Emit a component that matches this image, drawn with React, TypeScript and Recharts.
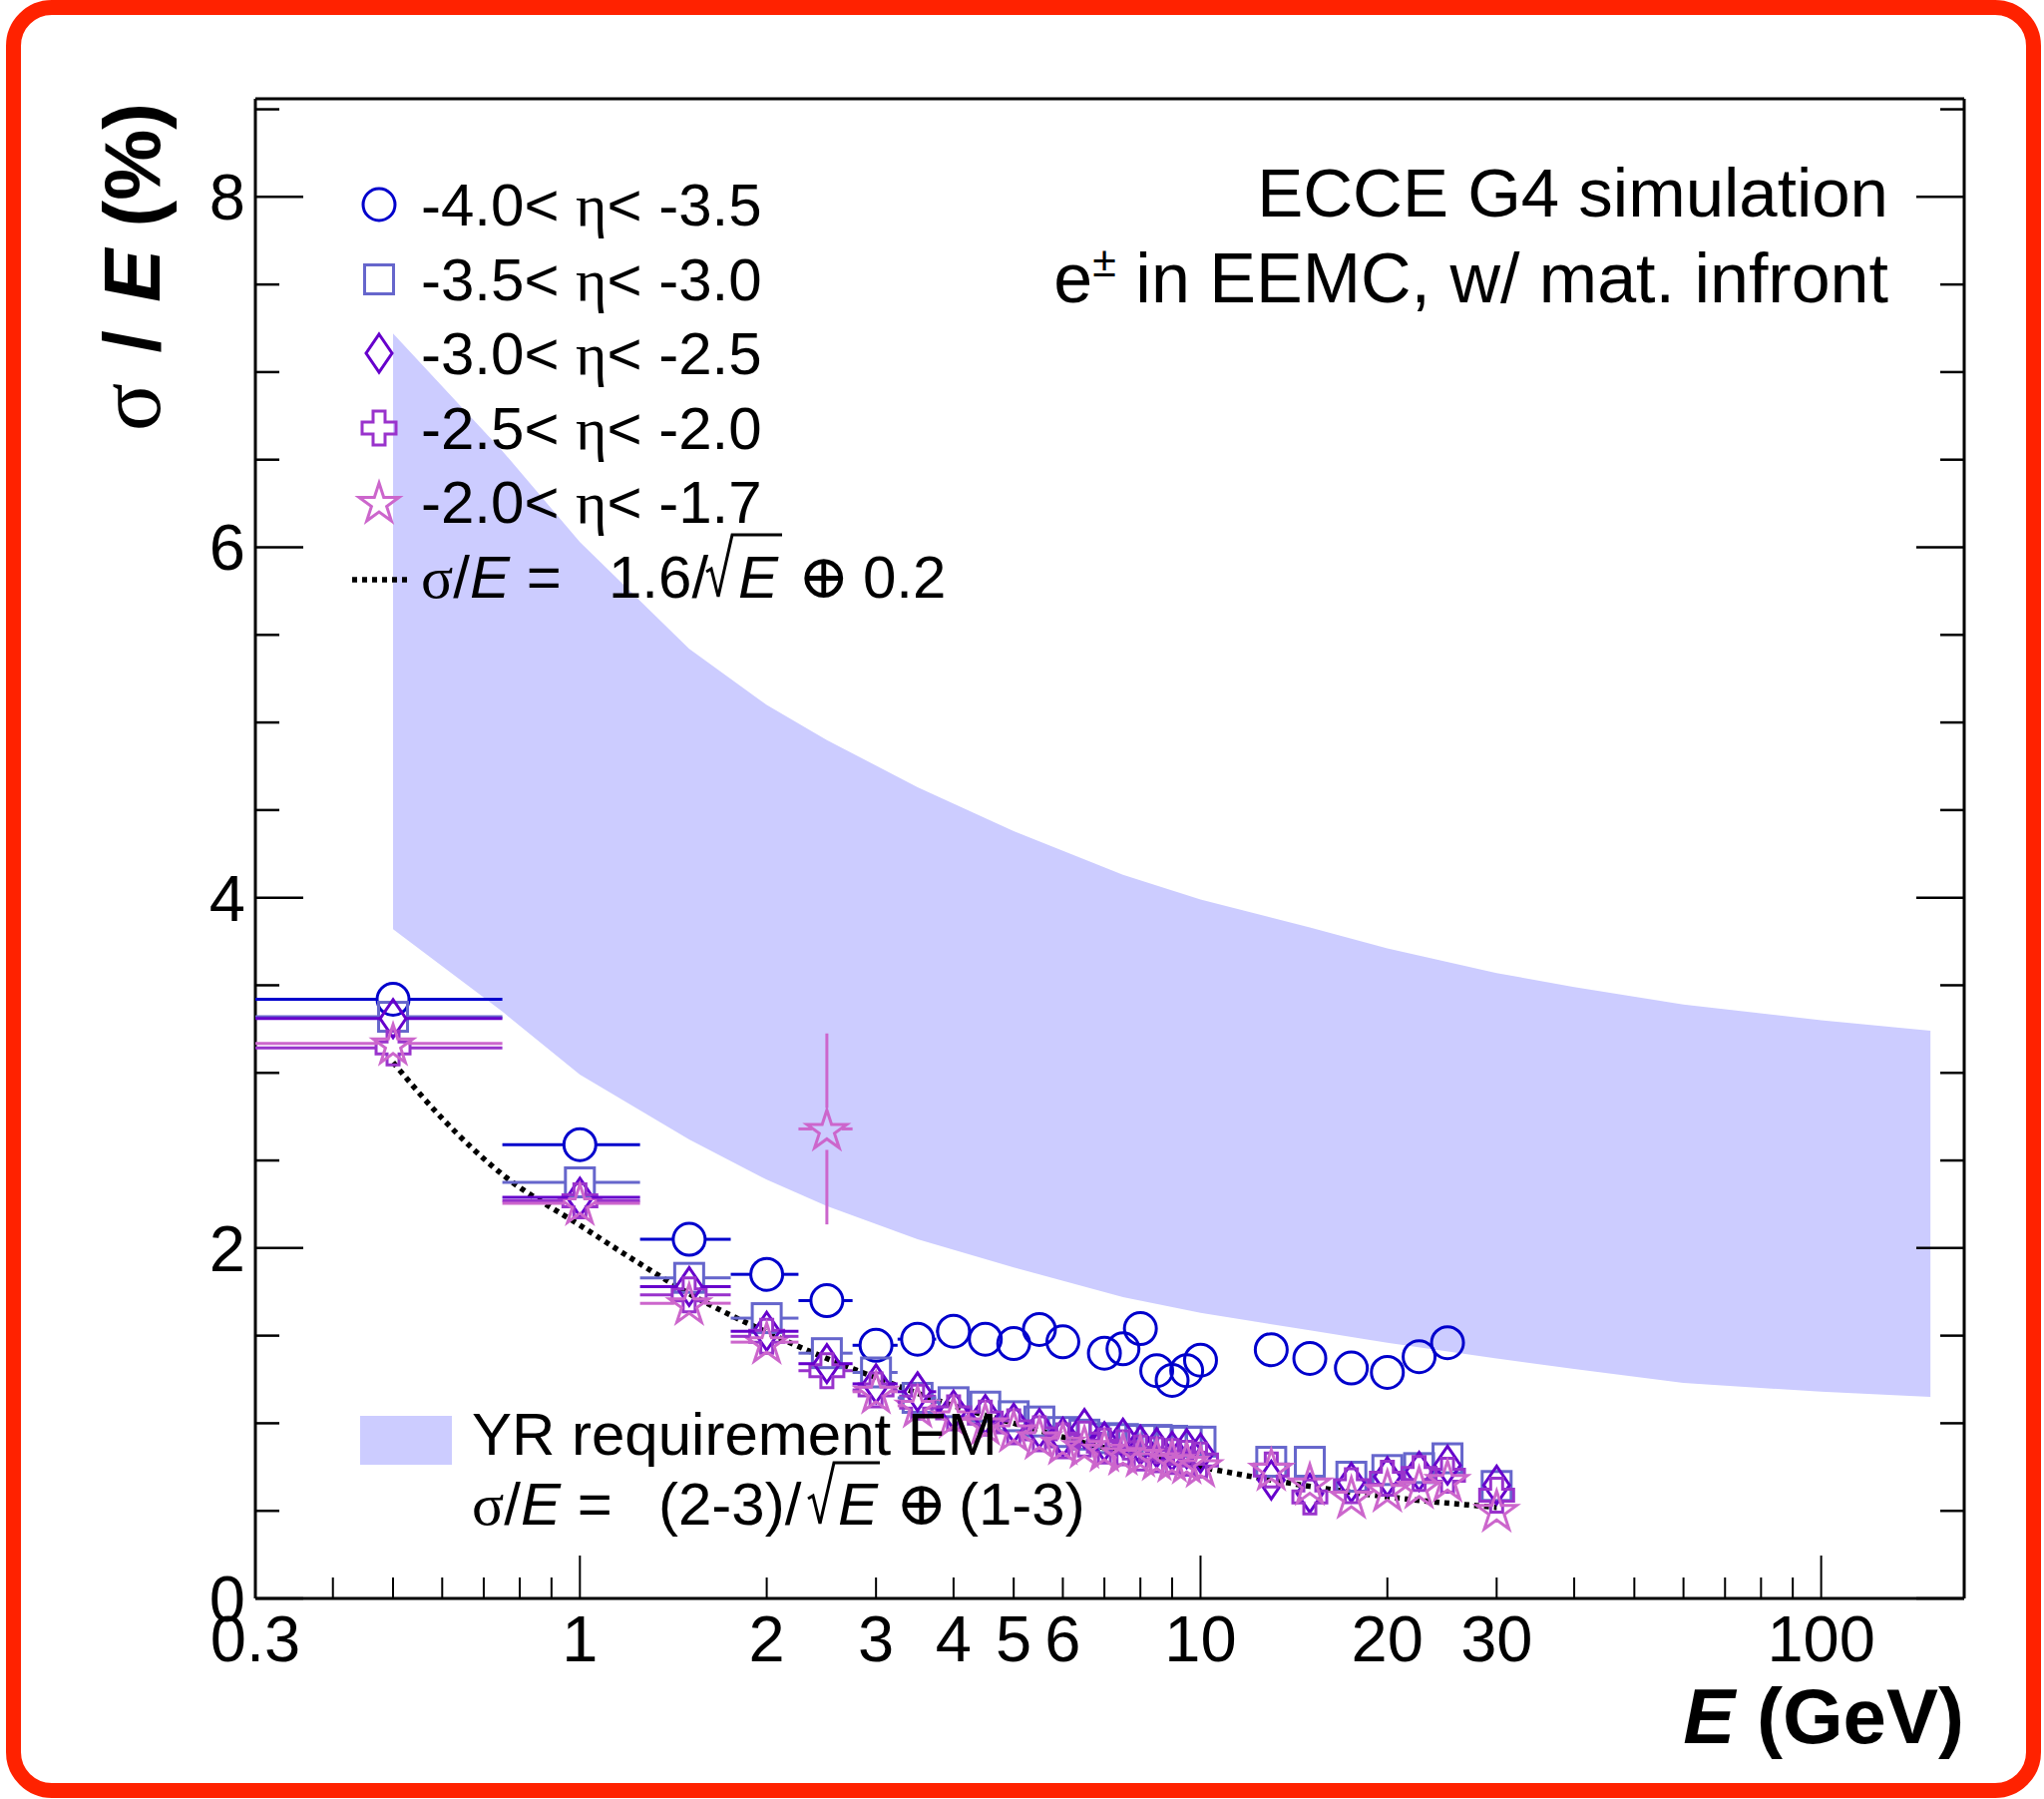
import { useState } from "react";
import { createPortal } from "react-dom";
import * as Recharts from "recharts";
import { Area, ComposedChart, ErrorBar, Line, Scatter, XAxis, YAxis } from "recharts";

const W = 2049;
const H = 1803;
const SANS = "'Liberation Sans', Arial, Helvetica, sans-serif";
const SERIF = "'Liberation Serif', 'DejaVu Serif', serif";

// beam energies (GeV)
const energies = [0.5, 1, 1.5, 2, 2.5, 3, 3.5, 4, 4.5, 5, 5.5, 6, 6.5, 7, 7.5, 8, 8.5, 9, 9.5, 10, 13, 15, 17.5, 20, 22.5, 25, 30];

// sigma/E (%) per eta bin, null where the bin has no point
const res40to35 = [3.42, 2.59, 2.05, 1.85, 1.7, 1.445, 1.48, 1.525, 1.48, 1.455, 1.535, 1.465, null, 1.4, 1.425, 1.54, 1.3, 1.245, 1.3, 1.36, 1.42, 1.37, 1.315, 1.29, 1.38, 1.46, null];
const res35to30 = [3.32, 2.375, 1.83, 1.6, 1.4, 1.29, 1.145, 1.12, 1.095, 1.04, 1.01, 0.95, 0.935, 0.915, 0.91, 0.905, 0.905, 0.9, 0.895, 0.895, 0.78, 0.78, 0.695, 0.733, 0.744, 0.8, 0.642];
const res30to25 = [3.31, 2.29, 1.78, 1.525, 1.34, 1.225, 1.18, 1.075, 1.05, 1.0, 0.97, 0.92, 0.97, 0.895, 0.915, 0.875, 0.86, 0.84, 0.855, 0.83, 0.676, 0.6, 0.662, 0.695, 0.725, 0.761, 0.647];
const res25to20 = [3.143, 2.27, 1.733, 1.496, 1.3, 1.19, 1.12, 1.06, 1.03, 0.98, 0.94, 0.9, 0.91, 0.87, 0.86, 0.83, 0.82, 0.81, 0.8, 0.79, 0.733, 0.58, 0.643, 0.686, 0.714, 0.704, 0.59];
const res20to17 = [3.168, 2.255, 1.685, 1.463, 2.68, 1.18, 1.1, 1.04, 1.0, 0.96, 0.92, 0.89, 0.87, 0.85, 0.83, 0.82, 0.8, 0.79, 0.78, 0.76, 0.74, 0.657, 0.581, 0.619, 0.638, 0.676, 0.505];
const res20to17Err = [0, 0, 0, 0, 0.545, 0, 0, 0, 0, 0, 0, 0, 0, 0, 0, 0, 0, 0, 0, 0, 0, 0, 0, 0, 0, 0, 0];

const binHalfWidth = 0.25;

// YR requirement band edges
const bandE = [0.5, 0.75, 1, 1.5, 2, 2.5, 3.5, 5, 7.5, 10, 15, 20, 30, 40, 60, 100, 150];
const bandLow = [3.82, 3.35, 2.99, 2.62, 2.39, 2.24, 2.05, 1.89, 1.72, 1.63, 1.53, 1.46, 1.37, 1.31, 1.23, 1.18, 1.15];
const bandHigh = [7.22, 6.55, 6.03, 5.42, 5.1, 4.9, 4.63, 4.38, 4.13, 3.99, 3.83, 3.71, 3.57, 3.49, 3.39, 3.3, 3.24];

// fitted resolution curve
const fitE = [0.5, 0.6, 0.75, 1, 1.25, 1.5, 2, 2.5, 3, 4, 5, 7, 10, 15, 20, 30];
const fitRes = [3.06, 2.74, 2.42, 2.13, 1.91, 1.74, 1.52, 1.37, 1.26, 1.1, 1.0, 0.86, 0.75, 0.64, 0.58, 0.52];

const xDomain: [number, number] = [0.3, 170];
const yDomain: [number, number] = [0, 8.56];
const xTicks = [0.3, 0.4, 0.5, 0.6, 0.7, 0.8, 0.9, 1, 2, 3, 4, 5, 6, 7, 8, 9, 10, 20, 30, 40, 50, 60, 70, 80, 90, 100];
const xLabels = [0.3, 1, 2, 3, 4, 5, 6, 10, 20, 30, 100];
const xLong = [1, 10, 100];
const yTicks = [0, 0.5, 1, 1.5, 2, 2.5, 3, 3.5, 4, 4.5, 5, 5.5, 6, 6.5, 7, 7.5, 8, 8.5];
const yLabels = [0, 2, 4, 6, 8];

type Kind = "circle" | "square" | "diamond" | "cross" | "star";

const series: { name: string; kind: Kind; color: string; values: (number | null)[]; yErr?: number[] }[] = [
  { name: "-4.0< η< -3.5", kind: "circle", color: "#0000cc", values: res40to35 },
  { name: "-3.5< η< -3.0", kind: "square", color: "#6666cc", values: res35to30 },
  { name: "-3.0< η< -2.5", kind: "diamond", color: "#6600cc", values: res30to25 },
  { name: "-2.5< η< -2.0", kind: "cross", color: "#9933cc", values: res25to20 },
  { name: "-2.0< η< -1.7", kind: "star", color: "#cc66cc", values: res20to17, yErr: res20to17Err },
];

// half extent of each marker, error bars stop at the marker edge
const markerGap: Record<Kind, [number, number]> = {
  circle: [16, 16],
  square: [14.5, 14.5],
  diamond: [12, 19],
  cross: [17, 17],
  star: [15, 21],
};

const starPoints = (cx: number, cy: number, R: number, r: number) => {
  const pts: string[] = [];
  for (let i = 0; i < 10; i++) {
    const rad = i % 2 === 0 ? R : r;
    const a = -Math.PI / 2 + (i * Math.PI) / 5;
    pts.push(`${cx + rad * Math.cos(a)},${cy + rad * Math.sin(a)}`);
  }
  return pts.join(" ");
};

const Marker = ({ kind, cx, cy, color }: { kind: Kind; cx: number; cy: number; color: string }) => {
  const common = { fill: "none", stroke: color, strokeWidth: 3 };
  switch (kind) {
    case "circle":
      return <circle cx={cx} cy={cy} r={16} {...common} />;
    case "square":
      return <rect x={cx - 14.5} y={cy - 14.5} width={29} height={29} {...common} />;
    case "diamond":
      return <polygon points={`${cx},${cy - 19} ${cx + 13},${cy} ${cx},${cy + 19} ${cx - 13},${cy}`} {...common} />;
    case "cross": {
      const o = 17;
      const a = 6;
      const p = [
        [-a, -o], [a, -o], [a, -a], [o, -a], [o, a], [a, a], [a, o], [-a, o], [-a, a], [-o, a], [-o, -a], [-a, -a],
      ].map(([dx, dy]) => `${cx + dx},${cy + dy}`).join(" ");
      return <polygon points={p} {...common} />;
    }
    default:
      return <polygon points={starPoints(cx, cy + 2, 21, 8)} {...common} />;
  }
};

const BottomTick = (props: any) => {
  const { x, y, payload } = props;
  const v = payload.value;
  const len = v === xDomain[0] ? 0 : xLong.includes(v) ? 43 : 21;
  return (
    <g>
      {len > 0 && <line x1={x} y1={y} x2={x} y2={y - len} stroke="#000" strokeWidth={2} />}
      {xLabels.includes(v) && (
        <text x={x} y={y + 63} textAnchor="middle" fontSize={65} fontFamily={SANS} fill="#000">
          {String(v)}
        </text>
      )}
    </g>
  );
};

const TopTick = (props: any) => {
  const { x, y, payload } = props;
  const v = payload.value;
  const len = v === xDomain[0] ? 0 : xLong.includes(v) ? 43 : 21;
  return len > 0 ? <line x1={x} y1={y} x2={x} y2={y + len} stroke="#000" strokeWidth={2} /> : <g />;
};

const LeftTick = (props: any) => {
  const { x, y, payload } = props;
  const v = payload.value;
  const major = yLabels.includes(v);
  return (
    <g>
      <line x1={x} y1={y} x2={x + (major ? 48 : 24)} y2={y} stroke="#000" strokeWidth={2.5} />
      {major && (
        <text x={x - 10} y={y + 23} textAnchor="end" fontSize={65} fontFamily={SANS} fill="#000">
          {String(v)}
        </text>
      )}
    </g>
  );
};

const RightTick = (props: any) => {
  const { x, y, payload } = props;
  const major = yLabels.includes(payload.value);
  return <line x1={x} y1={y} x2={x - (major ? 48 : 24)} y2={y} stroke="#000" strokeWidth={2.5} />;
};

const bandData = bandE.map((E, i) => ({ E, range: [bandLow[i], bandHigh[i]] }));
const fitData = fitE.map((E, i) => ({ E, v: fitRes[i] }));

const pointsOf = (s: (typeof series)[number]) =>
  energies
    .map((E, i) => ({
      E,
      v: s.values[i] as number,
      ex: [Math.min(binHalfWidth, E - xDomain[0]), binHalfWidth],
      ey: s.yErr ? s.yErr[i] : 0,
    }))
    .filter((p) => p.v !== null);

// axis scale hooks (recharts 3); fall back to plain ErrorBar when missing
const R = Recharts as any;
const hasScaleHooks = typeof R.useXAxisScale === "function" && typeof R.useYAxisScale === "function";
const useXScale: (id: string) => any = hasScaleHooks ? R.useXAxisScale : () => undefined;
const useYScale: (id: string) => any = hasScaleHooks ? R.useYAxisScale : () => undefined;
const asFn = (s: any): ((v: number) => number) | undefined =>
  typeof s === "function" ? s : s && typeof s.map === "function" ? (v: number) => s.map(v) : undefined;

// ROOT-style error bars: drawn only outside the marker, on top of the band
const BinErrorBars = ({ target }: { target: SVGGElement | null }) => {
  const xs = asFn(useXScale("e"));
  const ys = asFn(useYScale("left"));
  if (!xs || !ys || !target) return null;
  const segs: JSX.Element[] = [];
  series.forEach((s) => {
    const [gx, gy] = markerGap[s.kind];
    pointsOf(s).forEach((p) => {
      const cx = xs(p.E);
      const cy = ys(p.v);
      const x0 = xs(p.E - p.ex[0]);
      const x1 = xs(p.E + p.ex[1]);
      const key = `${s.kind}-${p.E}`;
      const line = (k: string, a: number, b: number, c: number, d: number) => (
        <line key={k} x1={a} y1={b} x2={c} y2={d} stroke={s.color} strokeWidth={3} />
      );
      if (cx - gx > x0) segs.push(line(`${key}-l`, x0, cy, cx - gx, cy));
      if (x1 > cx + gx) segs.push(line(`${key}-r`, cx + gx, cy, x1, cy));
      if (p.ey > 0) {
        const yt = ys(p.v + p.ey);
        const yb = ys(p.v - p.ey);
        if (cy - gy > yt) segs.push(line(`${key}-t`, cx, yt, cx, cy - gy));
        if (yb > cy + gy) segs.push(line(`${key}-b`, cx, cy + gy, cx, yb));
      }
    });
  });
  return createPortal(<g className="bin-error-bars">{segs}</g>, target);
};

const legendRows = [205, 280, 354, 429, 503];

// sqrt sign drawn as a stroke, overline running across the radicand
const Radical = ({ x, base, top, end }: { x: number; base: number; top: number; end: number }) => (
  <polyline
    points={`${x},${base - 26} ${x + 5},${base - 29} ${x + 12},${base - 1} ${x + 26},${top} ${end},${top}`}
    fill="none"
    stroke="#000"
    strokeWidth={3}
  />
);

const Overlay = ({ barRef }: { barRef: (el: SVGGElement | null) => void }) => (
  <svg width={W} height={H} style={{ position: "absolute", left: 0, top: 0, pointerEvents: "none" }} fontFamily={SANS}>
    <g ref={barRef} />

    {/* eta-bin legend */}
    {series.map((s, i) => (
      <g key={s.name}>
        <Marker kind={s.kind} cx={380} cy={legendRows[i]} color={s.color} />
        <text x={422} y={legendRows[i] + 21} fontSize={60} fill="#000">
          {s.name.split("η")[0]}
          <tspan fontFamily={SERIF}>η</tspan>
          {s.name.split("η")[1]}
        </text>
      </g>
    ))}
    <line x1={353} y1={581} x2={410} y2={581} stroke="#000" strokeWidth={5.5} strokeDasharray="5 5" />
    <text x={422} y={599} fontSize={60} fill="#000">
      <tspan fontFamily={SERIF}>σ</tspan>/<tspan fontStyle="italic">E</tspan> =
    </text>
    <text x={610} y={599} fontSize={60} fill="#000">1.6/</text>
    <Radical x={708} base={599} top={536} end={784} />
    <text x={740} y={599} fontSize={60} fill="#000" fontStyle="italic">E</text>
    <text x={800} y={599} fontSize={62} fill="#000" fontFamily={SERIF}>⊕</text>
    <text x={865} y={599} fontSize={60} fill="#000">0.2</text>

    {/* requirement legend */}
    <rect x={361} y={1419} width={92} height={49} fill="#ccccff" />
    <text x={473} y={1458} fontSize={60} fill="#000">YR requirement EM</text>
    <text x={473} y={1528} fontSize={60} fill="#000">
      <tspan fontFamily={SERIF}>σ</tspan>/<tspan fontStyle="italic">E</tspan> =
    </text>
    <text x={660} y={1528} fontSize={60} fill="#000">(2-3)/</text>
    <Radical x={810} base={1528} top={1466} end={882} />
    <text x={840} y={1528} fontSize={60} fill="#000" fontStyle="italic">E</text>
    <text x={898} y={1528} fontSize={62} fill="#000" fontFamily={SERIF}>⊕</text>
    <text x={961} y={1528} fontSize={60} fill="#000">(1-3)</text>

    {/* simulation label */}
    <text x={1893} y={217} textAnchor="end" fontSize={69} fill="#000">ECCE G4 simulation</text>
    <text x={1893} y={303} textAnchor="end" fontSize={70} fill="#000">
      e<tspan fontSize={43} dy={-26}>±</tspan>
      <tspan dy={26}> in EEMC, w/ mat. infront</tspan>
    </text>

    {/* axis titles */}
    <text x={1969} y={1747} textAnchor="end" fontSize={78} fontWeight="bold" fill="#000">
      <tspan fontStyle="italic">E</tspan> (GeV)
    </text>
    <text transform="translate(160,103) rotate(-90)" textAnchor="end" fontSize={80} fontWeight="bold" fill="#000">
      <tspan fontFamily={SERIF} fontWeight="normal" fontSize={90}>σ</tspan>
      <tspan dx={8}> / </tspan>
      <tspan dx={6} fontStyle="italic">E</tspan> (%)
    </text>
  </svg>
);

const App = () => {
  const [barLayer, setBarLayer] = useState<SVGGElement | null>(null);
  return (
    <div style={{ position: "absolute", left: 0, top: 0, width: W, height: H, background: "#fff", overflow: "hidden" }}>
      <ComposedChart width={W} height={H} margin={{ top: 79, right: 60, bottom: 101, left: 156 }}>
        <XAxis
          xAxisId="e"
          dataKey="E"
          type="number"
          scale="log"
          domain={xDomain}
          allowDataOverflow
          ticks={xTicks}
          interval={0}
          height={100}
          tickSize={0}
          tickMargin={0}
          tickLine={false}
          tick={<BottomTick />}
          axisLine={{ stroke: "#000", strokeWidth: 3 }}
        />
        <XAxis
          xAxisId="top"
          orientation="top"
          type="number"
          scale="log"
          domain={xDomain}
          allowDataOverflow
          ticks={xTicks}
          interval={0}
          height={20}
          tickSize={0}
          tickMargin={0}
          tickLine={false}
          tick={<TopTick />}
          axisLine={{ stroke: "#000", strokeWidth: 3 }}
        />
        <YAxis
          yAxisId="left"
          type="number"
          domain={yDomain}
          allowDataOverflow
          ticks={yTicks}
          interval={0}
          width={100}
          tickSize={0}
          tickMargin={0}
          tickLine={false}
          tick={<LeftTick />}
          axisLine={{ stroke: "#000", strokeWidth: 3 }}
        />
        <YAxis
          yAxisId="right"
          orientation="right"
          type="number"
          domain={yDomain}
          allowDataOverflow
          ticks={yTicks}
          interval={0}
          width={20}
          tickSize={0}
          tickMargin={0}
          tickLine={false}
          tick={<RightTick />}
          axisLine={{ stroke: "#000", strokeWidth: 3 }}
        />
        <Area
          xAxisId="e"
          yAxisId="left"
          data={bandData}
          dataKey="range"
          type="linear"
          fill="#ccccff"
          fillOpacity={1}
          stroke="none"
          isAnimationActive={false}
        />
        {series.map((s) => (
          <Scatter
            key={s.name}
            name={s.name}
            xAxisId="e"
            yAxisId="left"
            data={pointsOf(s)}
            dataKey="v"
            isAnimationActive={false}
            shape={(p: any) => <Marker kind={s.kind} cx={p.cx} cy={p.cy} color={s.color} />}
          >
            {!hasScaleHooks && <ErrorBar dataKey="ex" direction="x" width={0} stroke={s.color} strokeWidth={3} />}
            {!hasScaleHooks && s.yErr && <ErrorBar dataKey="ey" direction="y" width={0} stroke={s.color} strokeWidth={3} />}
          </Scatter>
        ))}
        {hasScaleHooks && <BinErrorBars target={barLayer} />}
        <Line
          xAxisId="e"
          yAxisId="left"
          data={fitData}
          dataKey="v"
          type="monotone"
          stroke="#000"
          strokeWidth={5.5}
          strokeDasharray="5 5"
          dot={false}
          activeDot={false}
          isAnimationActive={false}
        />
      </ComposedChart>
      <Overlay barRef={setBarLayer} />
      <div
        style={{
          position: "absolute",
          left: 6,
          top: 0,
          width: 2040,
          height: 1802,
          border: "15px solid #ff2200",
          borderRadius: 46,
          boxSizing: "border-box",
          pointerEvents: "none",
        }}
      />
    </div>
  );
};

export default App;
